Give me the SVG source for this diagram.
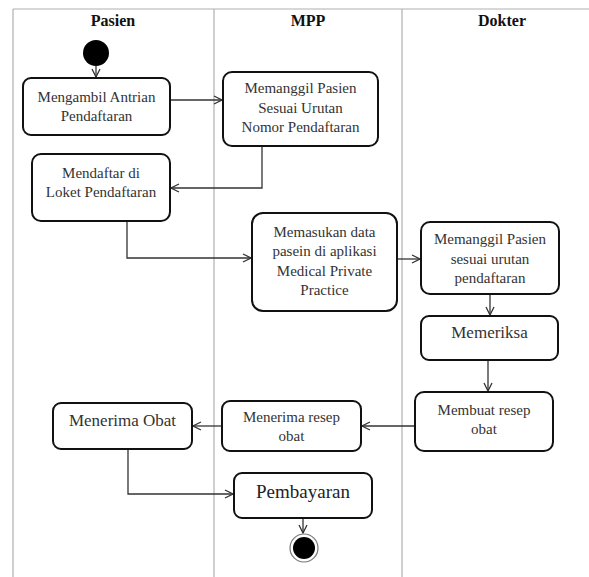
<svg xmlns="http://www.w3.org/2000/svg" width="589" height="577" viewBox="0 0 589 577" font-family="'Liberation Serif', 'Times New Roman', serif">
<defs>
<marker id="arr" markerWidth="10" markerHeight="10" refX="9" refY="5" orient="auto" markerUnits="userSpaceOnUse">
<path d="M1,1 L9,5 L1,9" fill="none" stroke="#333" stroke-width="1.3"/>
</marker>
<style>
.lane{stroke:#b0b0b0;stroke-width:1.2;fill:none}
.title{font-weight:bold;font-size:16px;fill:#111;text-anchor:middle}
.box{fill:#fff;stroke:#111;stroke-width:2}
.t{font-size:15px;fill:#333;text-anchor:middle}
.conn{fill:none;stroke:#333;stroke-width:1.3;marker-end:url(#arr)}
</style>
</defs>
<rect width="589" height="577" fill="#fff"/>
<g id="swimlanes">
<line class="lane" x1="13" y1="9" x2="589" y2="9"/>
<line class="lane" x1="13" y1="9" x2="13" y2="577" stroke-width="1.5"/>
<line class="lane" x1="214" y1="9" x2="214" y2="577" stroke-width="1"/>
<line class="lane" x1="402" y1="9" x2="402" y2="577" stroke-width="1.8"/>
<text class="title" x="113" y="26">Pasien</text>
<text class="title" x="308" y="26">MPP</text>
<text class="title" x="502" y="26">Dokter</text>
</g>
<g id="connectors">
<path class="conn" d="M96,66 V77"/>
<path class="conn" d="M170,100 H222"/>
<path class="conn" d="M262,146 V188 H171"/>
<path class="conn" d="M127,221 V258 H251"/>
<path class="conn" d="M397,259 H420"/>
<path class="conn" d="M490,294 V315"/>
<path class="conn" d="M488,360 V391"/>
<path class="conn" d="M415,426 H362"/>
<path class="conn" d="M222,426 H193"/>
<path class="conn" d="M128,449 V494 H233"/>
<path class="conn" d="M303,518 V533"/>
</g>
<g id="start"><circle cx="96" cy="53" r="13" fill="#000"/></g>
<g id="n1">
<rect class="box" x="23" y="78" width="147" height="57" rx="8"/>
<text class="t" x="96.5" y="102">Mengambil Antrian</text>
<text class="t" x="96.5" y="121">Pendaftaran</text>
</g>
<g id="n2">
<rect class="box" x="223" y="72" width="155" height="74" rx="9"/>
<text class="t" x="300.5" y="93">Memanggil Pasien</text>
<text class="t" x="300.5" y="113">Sesuai Urutan</text>
<text class="t" x="300.5" y="132">Nomor Pendaftaran</text>
</g>
<g id="n3">
<rect class="box" x="32" y="154" width="138" height="67" rx="9"/>
<text class="t" x="101" y="178">Mendaftar di</text>
<text class="t" x="101" y="197">Loket Pendaftaran</text>
</g>
<g id="n4">
<rect class="box" x="252" y="213" width="145" height="98" rx="11"/>
<text class="t" x="324.5" y="237">Memasukan data</text>
<text class="t" x="324.5" y="256">pasein di aplikasi</text>
<text class="t" x="324.5" y="276">Medical Private</text>
<text class="t" x="324.5" y="295">Practice</text>
</g>
<g id="n5">
<rect class="box" x="421" y="222" width="138" height="72" rx="9"/>
<text class="t" x="490" y="244">Memanggil Pasien</text>
<text class="t" x="490" y="264">sesuai urutan</text>
<text class="t" x="490" y="283">pendaftaran</text>
</g>
<g id="n6">
<rect class="box" x="421" y="316" width="137" height="44" rx="8"/>
<text class="t" x="489.5" y="338" style="font-size:17px">Memeriksa</text>
</g>
<g id="n7">
<rect class="box" x="415" y="392" width="138" height="59" rx="9"/>
<text class="t" x="484" y="415">Membuat resep</text>
<text class="t" x="484" y="434">obat</text>
</g>
<g id="n8">
<rect class="box" x="222" y="401" width="139" height="50" rx="8"/>
<text class="t" x="291.5" y="422">Menerima resep</text>
<text class="t" x="291.5" y="441">obat</text>
</g>
<g id="n9">
<rect class="box" x="53" y="403" width="139" height="46" rx="8"/>
<text class="t" x="122.5" y="426" style="font-size:17px">Menerima Obat</text>
</g>
<g id="n10">
<rect class="box" x="234" y="473" width="138" height="45" rx="8"/>
<text class="t" x="303" y="498" style="font-size:19px;fill:#222">Pembayaran</text>
</g>
<g id="end">
<circle cx="304" cy="548" r="14" fill="#fff" stroke="#777" stroke-width="1.2"/>
<circle cx="304" cy="548" r="11" fill="#000"/>
</g>
</svg>
